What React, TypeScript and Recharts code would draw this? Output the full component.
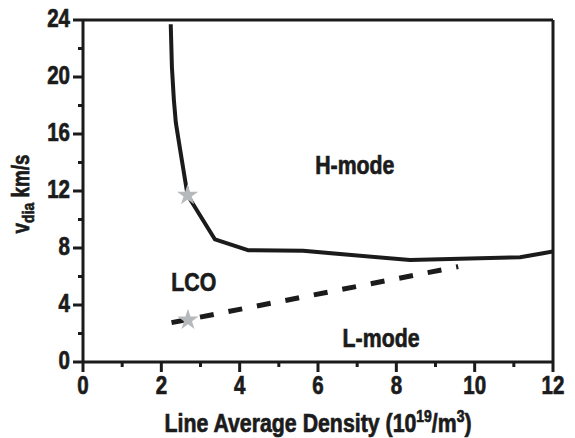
import React from 'react';
import {
  ComposedChart,
  Line,
  Scatter,
  XAxis,
  YAxis,
  ZAxis,
  ReferenceLine,
  ReferenceDot,
  Label,
} from 'recharts';

// H-mode threshold boundary (solid)
const hDensity = [2.24, 2.27, 2.32, 2.37, 2.48, 2.67, 3.37, 4.21, 5.62, 8.35, 11.16, 12];
const hVdia = [23.7, 20.7, 18.4, 16.8, 14.9, 11.7, 8.6, 7.85, 7.8, 7.15, 7.35, 7.75];

// L-mode / LCO boundary (dashed)
const lDensity = [2.26, 9.58];
const lVdia = [2.76, 6.69];

// marked transition points
const starDensity = [2.67, 2.68];
const starVdia = [11.7, 2.95];

// regime annotations
const regionNames = ['H-mode', 'LCO', 'L-mode'];
const regionX = [6.94, 2.83, 7.61];
const regionY = [13.8, 5.6, 1.68];

const xTicks = [0, 1, 2, 3, 4, 5, 6, 7, 8, 9, 10, 11, 12];
const yTicks = [0, 2, 4, 6, 8, 10, 12, 14, 16, 18, 20, 22, 24];

const INK = '#1b1b1b';
const STAR = '#b5b9bb';
const FONT = '"Liberation Sans", Arial, sans-serif';
// condensed look: squeeze the regular bold face horizontally
const SQUEEZE = 0.82;

const hData = hDensity.map((x, i) => ({ x, y: hVdia[i] }));
const lData = lDensity.map((x, i) => ({ x, y: lVdia[i] }));
const starData = starDensity.map((x, i) => ({ x, y: starVdia[i] }));

const NarrowText = ({ x, y, anchor = 'middle', size = 25, rotate = 0, children }: any) => (
  <g transform={`translate(${x},${y}) rotate(${rotate}) scale(${SQUEEZE},1)`}>
    <text
      x={0}
      y={0}
      textAnchor={anchor}
      fontFamily={FONT}
      fontWeight="bold"
      fontSize={size}
      fill={INK}
      stroke={INK}
      strokeWidth={0.7}
    >
      {children}
    </text>
  </g>
);

const XTick = ({ x, y, payload }: any) => {
  const major = payload.value % 2 === 0;
  return (
    <g>
      <line x1={x} x2={x} y1={y} y2={y + (major ? 10 : 5)} stroke={INK} strokeWidth={3} />
      {major && <NarrowText x={x} y={y + 32}>{payload.value}</NarrowText>}
    </g>
  );
};

const YTick = ({ x, y, payload }: any) => {
  const major = payload.value % 4 === 0;
  return (
    <g>
      <line x1={x - (major ? 10 : 5)} x2={x} y1={y} y2={y} stroke={INK} strokeWidth={3} />
      {major && (
        <NarrowText x={x - 13} y={y + 7} anchor="end">
          {payload.value}
        </NarrowText>
      )}
    </g>
  );
};

const XTitle = ({ viewBox }: any) => (
  <NarrowText x={viewBox.x + viewBox.width / 2} y={viewBox.y + 70} size={26}>
    Line Average Density (10
    <tspan dy={-10} fontSize={17}>19</tspan>
    <tspan dy={10}>/m</tspan>
    <tspan dy={-10} fontSize={17}>3</tspan>
    <tspan dy={10}>)</tspan>
  </NarrowText>
);

const YTitle = ({ viewBox }: any) => (
  <NarrowText x={29} y={viewBox.y + viewBox.height / 2 + 3} size={23} rotate={-90}>
    v
    <tspan dy={5} fontSize={17}>dia</tspan>
    <tspan dy={-5}> km/s</tspan>
  </NarrowText>
);

const RegionLabel = ({ viewBox, value }: any) => (
  <NarrowText x={viewBox.x} y={viewBox.y + 9} size={26}>
    {value}
  </NarrowText>
);

export default function App() {
  return (
    <div style={{ position: 'absolute', left: 0, top: 0, background: '#fff' }}>
      <ComposedChart width={575} height={438} margin={{ top: 20, right: 22, bottom: 0, left: 0 }}>
        <XAxis
          type="number"
          dataKey="x"
          domain={[0, 12]}
          ticks={xTicks}
          interval={0}
          allowDataOverflow
          height={76}
          tickSize={0}
          tickMargin={0}
          tickLine={false}
          tick={<XTick />}
          axisLine={{ stroke: INK, strokeWidth: 3 }}
        >
          <Label content={<XTitle />} />
        </XAxis>
        <YAxis
          type="number"
          dataKey="y"
          domain={[0, 24]}
          ticks={yTicks}
          interval={0}
          allowDataOverflow
          width={83}
          tickSize={0}
          tickMargin={0}
          tickLine={false}
          tick={<YTick />}
          axisLine={{ stroke: INK, strokeWidth: 3 }}
        >
          <Label content={<YTitle />} />
        </YAxis>
        <ZAxis range={[140, 140]} />

        {/* top and right frame */}
        <ReferenceLine y={24} stroke={INK} strokeWidth={3} />
        <ReferenceLine x={12} stroke={INK} strokeWidth={3} />

        <Line
          data={lData}
          dataKey="y"
          type="linear"
          stroke={INK}
          strokeWidth={5}
          strokeDasharray="14 15"
          dot={false}
          isAnimationActive={false}
        />
        <Line
          data={hData}
          dataKey="y"
          type="linear"
          stroke={INK}
          strokeWidth={4}
          strokeLinejoin="round"
          dot={false}
          isAnimationActive={false}
        />
        <Scatter data={starData} shape="star" fill={STAR} isAnimationActive={false} />

        {regionNames.map((name, i) => (
          <ReferenceDot
            key={name}
            x={regionX[i]}
            y={regionY[i]}
            r={0}
            stroke="none"
            label={<RegionLabel value={name} />}
          />
        ))}
      </ComposedChart>
    </div>
  );
}
